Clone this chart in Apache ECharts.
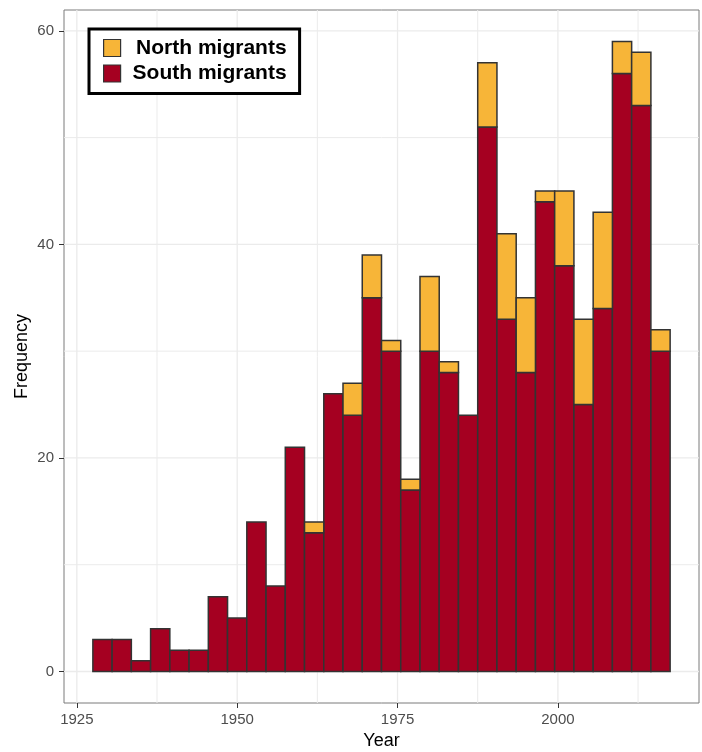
<!DOCTYPE html>
<html>
<head>
<meta charset="utf-8">
<script src="https://cdn.jsdelivr.net/npm/echarts@6/dist/echarts.min.js"></script>
<style>
  html, body { margin: 0; padding: 0; background: #fff; }
  #chart { width: 702px; height: 752px; }
</style>
</head>
<body>
<div id="chart"></div>
<script>
// histogram bins (3-year width), left edges
const binStarts = [1927.5, 1930.5, 1933.5, 1936.5, 1939.5, 1942.5, 1945.5, 1948.5, 1951.5, 1954.5,
  1957.5, 1960.5, 1963.5, 1966.5, 1969.5, 1972.5, 1975.5, 1978.5, 1981.5, 1984.5,
  1987.5, 1990.5, 1993.5, 1996.5, 1999.5, 2002.5, 2005.5, 2008.5, 2011.5, 2014.5]
const binWidth = 3
const southCounts = [3, 3, 1, 4, 2, 2, 7, 5, 14, 8, 21, 13, 26, 24, 35, 30, 17, 30, 28, 24,
  51, 33, 28, 44, 38, 25, 34, 56, 53, 30]
const northCounts = [0, 0, 0, 0, 0, 0, 0, 0, 0, 0, 0, 1, 0, 3, 4, 1, 1, 7, 1, 0,
  6, 8, 7, 1, 7, 8, 9, 3, 5, 2]

const xTicks = [1925, 1950, 1975, 2000]
const xMinor = [1937.5, 1962.5, 1987.5, 2012.5]
const yTicks = [0, 20, 40, 60]
const yMinor = [10, 30, 50]

const southColor = '#A50021'
const northColor = '#F7B538'
const outline = '#333333'
const font = '"Liberation Sans", Arial, sans-serif'

// [x0, x1, y0, y1] per bin, north stacked on top of south
const southData = binStarts.map((b, i) => [b, b + binWidth, 0, southCounts[i]])
const northData = binStarts
  .map((b, i) => [b, b + binWidth, southCounts[i], southCounts[i] + northCounts[i]])
  .filter(d => d[3] > d[2])

function renderBin(params, api) {
  const p0 = api.coord([api.value(0), api.value(3)])
  const p1 = api.coord([api.value(1), api.value(2)])
  return {
    type: 'rect',
    shape: { x: p0[0], y: p0[1], width: p1[0] - p0[0], height: p1[1] - p0[1] },
    style: { fill: api.visual('color'), stroke: outline, lineWidth: 1.5 }
  }
}

function gridSeries(values, vertical, width) {
  return {
    type: 'custom',
    silent: true,
    z: 0,
    data: values.map(v => [v]),
    renderItem: (params, api) => {
      const cs = params.coordSys
      if (vertical) {
        const x = api.coord([api.value(0), 0])[0]
        return { type: 'line', shape: { x1: x, y1: cs.y, x2: x, y2: cs.y + cs.height },
          style: { stroke: '#ebebeb', lineWidth: width } }
      }
      const y = api.coord([1950, api.value(0)])[1]
      return { type: 'line', shape: { x1: cs.x, y1: y, x2: cs.x + cs.width, y2: y },
        style: { stroke: '#ebebeb', lineWidth: width } }
    }
  }
}

const chart = echarts.init(document.getElementById('chart'))
chart.setOption({
  animation: false,
  textStyle: { fontFamily: font },
  grid: {
    left: 64, right: 3, top: 10, bottom: 49,
    outerBoundsMode: 'none',
    show: true, borderColor: '#7a7a7a', borderWidth: 1, backgroundColor: '#fff'
  },
  legend: {
    data: [
      { name: 'North migrants', itemStyle: { borderColor: outline, borderWidth: 1.2 } },
      { name: 'South migrants', itemStyle: { borderColor: outline, borderWidth: 1.2 } }
    ],
    orient: 'vertical',
    left: 89, top: 29,
    icon: 'rect',
    itemWidth: 17, itemHeight: 17, itemGap: 4.5,
    padding: [8.5, 13, 9.5, 14],
    borderColor: '#000', borderWidth: 3, backgroundColor: '#fff',
    formatter: '{t|{name}}',
    textStyle: {
      rich: {
        t: { width: 161, align: 'right', fontSize: 21, fontWeight: 'bold', color: '#000',
          lineHeight: 17, fontFamily: font }
      }
    }
  },
  xAxis: {
    type: 'value',
    min: 1923, max: 2022,
    name: 'Year',
    nameLocation: 'middle',
    nameGap: 29,
    nameMoveOverlap: false,
    nameTextStyle: { fontSize: 18, color: '#000' },
    axisLine: { show: false, onZero: false },
    axisTick: { show: true, customValues: xTicks, length: 5, lineStyle: { color: '#333' } },
    axisLabel: { customValues: xTicks, color: '#4d4d4d', fontSize: 15, margin: 9,
      formatter: v => String(v) },
    splitLine: { show: false }
  },
  yAxis: {
    type: 'value',
    min: -2.95, max: 61.95,
    name: 'Frequency',
    nameLocation: 'middle',
    nameGap: 33,
    nameMoveOverlap: false,
    nameTextStyle: { fontSize: 18, color: '#000' },
    axisLine: { show: false, onZero: false },
    axisTick: { show: true, customValues: yTicks, length: 5, lineStyle: { color: '#333' } },
    axisLabel: { customValues: yTicks, color: '#4d4d4d', fontSize: 15, margin: 10,
      formatter: v => String(v) },
    splitLine: { show: false }
  },
  series: [
    gridSeries(xMinor, true, 1),
    gridSeries(yMinor, false, 1),
    gridSeries(xTicks, true, 1.3),
    gridSeries(yTicks, false, 1.3),
    {
      name: 'South migrants',
      type: 'custom',
      z: 2,
      itemStyle: { color: southColor },
      data: southData,
      renderItem: renderBin
    },
    {
      name: 'North migrants',
      type: 'custom',
      z: 2,
      itemStyle: { color: northColor },
      data: northData,
      renderItem: renderBin
    }
  ]
})
</script>
</body>
</html>
